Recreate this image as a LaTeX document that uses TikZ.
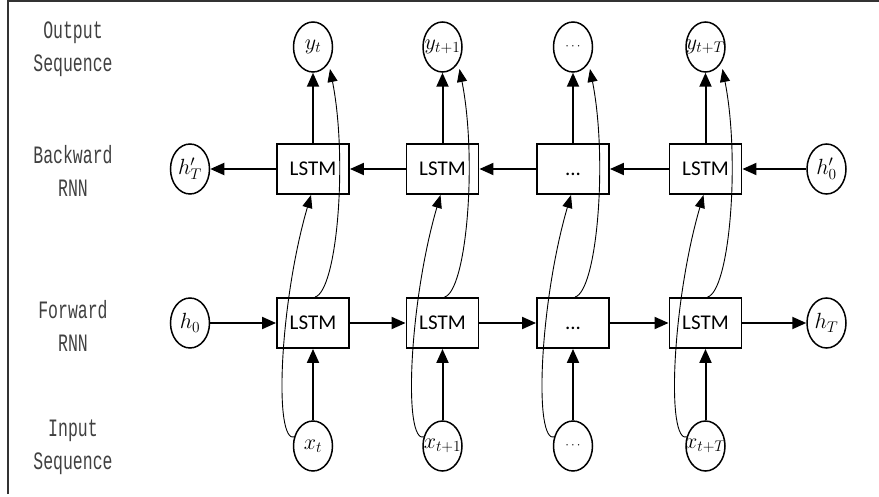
\RequirePackage{fix-cm}
\documentclass[tikz,border=0pt]{standalone}
\usepackage{fontspec}
\usetikzlibrary{arrows.meta,shapes.geometric,calc}
\newfontfamily\lblfont[FakeStretch=0.66]{Liberation Mono}
\newfontfamily\boxfont{Carlito}
\newcommand\zw[1]{\makebox[0pt]{#1}}
\begin{document}
\begin{tikzpicture}[x=1pt,y=-1pt,
  lstm/.style={draw, line width=1.9pt, minimum width=72pt, minimum height=50pt, inner sep=0pt,
    font=\boxfont\fontsize{21}{21}\selectfont, text height=13.5pt, text depth=0pt},
  seqnode/.style={ellipse, draw, line width=1.5pt, minimum width=39pt, minimum height=50pt,
    inner sep=0pt, font=\fontsize{22}{26}\selectfont},
  lbl/.style={font=\lblfont\fontsize{25}{33}\selectfont, align=center, text=black!75},
  thickarr/.style={line width=2pt, -{Triangle[length=14pt,width=12pt]}},
  thinarr/.style={line width=0.9pt, -{Triangle[length=13pt,width=10pt]}},
]
\useasboundingbox (0,0) rectangle (879,497);
\draw[line width=2pt, black!80] (8,494) -- (8,1) -- (879,1);

% row labels
\node[lbl] (lout) at (73,49) {Output\\Sequence};
\node[lbl] (lbwd) at (73,171) {Backward\\RNN};
\node[lbl] (lfwd) at (73,326) {Forward\\RNN};
\node[lbl] (linp) at (73,447) {Input\\Sequence};

% LSTM boxes
\node[lstm] (b1) at (313,169) {LSTM};
\node[lstm] (b2) at (442.5,169) {LSTM};
\node[lstm] (b3) at (573,169) {...};
\node[lstm] (b4) at (705.5,169) {LSTM};
\node[lstm] (f1) at (313,323) {LSTM};
\node[lstm] (f2) at (442.5,323) {LSTM};
\node[lstm] (f3) at (573,323) {...};
\node[lstm] (f4) at (705.5,323) {LSTM};

% sequence circles
\node[seqnode] (y1) at (313,47) {\zw{$y_t$}};
\node[seqnode] (y2) at (442.5,47) {\zw{$y_{t+1}$}};
\node[seqnode] (y3) at (573,47) {\zw{\fontsize{13}{15}\selectfont$\cdots$}};
\node[seqnode] (y4) at (705.5,47) {\zw{$y_{t+T}$}};
\node[seqnode] (x1) at (313,446) {\zw{$x_t$}};
\node[seqnode] (x2) at (442.5,446) {\zw{$x_{t+1}$}};
\node[seqnode] (x3) at (573,446) {\zw{\fontsize{13}{15}\selectfont$\cdots$}};
\node[seqnode] (x4) at (705.5,446) {\zw{$x_{t+T}$}};
\node[seqnode] (hTp) at (190,169) {\zw{$h'_T$}};
\node[seqnode] (h0p) at (826.5,169) {\zw{$h'_0$}};
\node[seqnode] (h0) at (190,323) {\zw{$h_0$}};
\node[seqnode] (hT) at (826.5,323) {\zw{$h_T$}};

% backward chain
\draw[thickarr] (h0p) -- (b4);
\draw[thickarr] (b4) -- (b3);
\draw[thickarr] (b3) -- (b2);
\draw[thickarr] (b2) -- (b1);
\draw[thickarr] (b1) -- (hTp);
% forward chain
\draw[thickarr] (h0) -- (f1);
\draw[thickarr] (f1) -- (f2);
\draw[thickarr] (f2) -- (f3);
\draw[thickarr] (f3) -- (f4);
\draw[thickarr] (f4) -- (hT);

\foreach \i in {1,2,3,4}{
  \draw[thickarr] (x\i) -- (f\i);
  \draw[thickarr] (b\i) -- (y\i);
  \draw[thinarr] ($(x\i.center)+(-18,-9)$) .. controls +(-22,8) and +(-31,106) .. ($(b\i.south)+(-2,0)$);
  \draw[thinarr] ($(f\i.north)+(2,0)$) .. controls +(22,-6) and +(18,91) .. ($(y\i.center)+(17,22)$);
}
\end{tikzpicture}
\end{document}
